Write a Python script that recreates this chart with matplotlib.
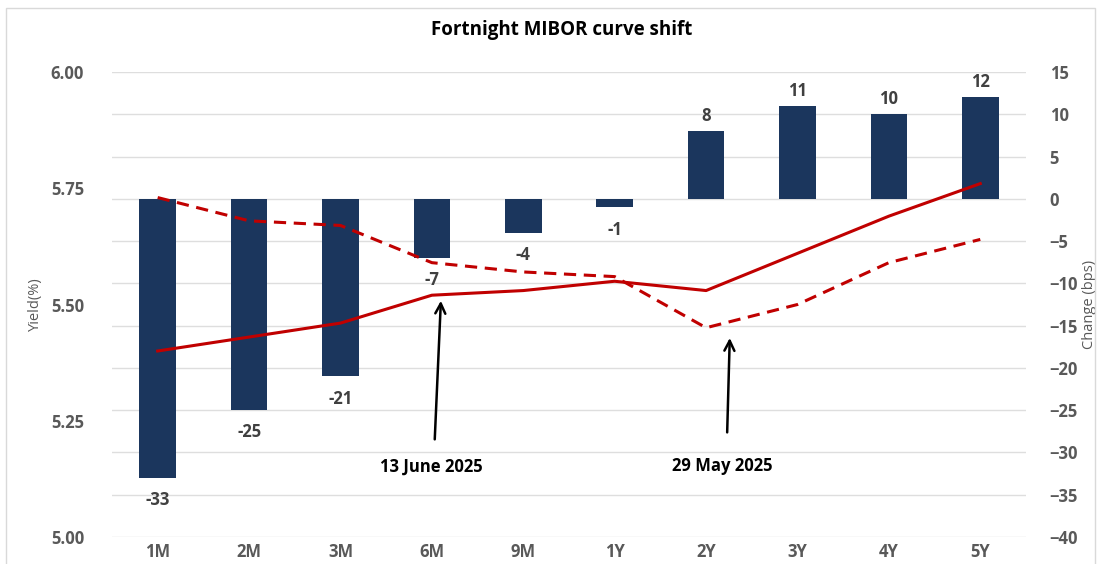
import numpy as np
import matplotlib
matplotlib.use("Agg")
import matplotlib.pyplot as plt
from matplotlib.patches import Rectangle

# tenors and values
tenors = ["1M", "2M", "3M", "6M", "9M", "1Y", "2Y", "3Y", "4Y", "5Y"]
yield_13jun = [5.40, 5.43, 5.46, 5.52, 5.53, 5.55, 5.53, 5.61, 5.69, 5.76]
yield_29may = [5.73, 5.68, 5.67, 5.59, 5.57, 5.56, 5.45, 5.50, 5.59, 5.64]
change_bps = [-33, -25, -21, -7, -4, -1, 8, 11, 10, 12]

plt.rcParams['font.family'] = ['Open Sans', 'DejaVu Sans']

NAVY = '#1b365d'
RED = '#c00000'
GRAY = '#595959'

fig = plt.figure(figsize=(11, 5.64), dpi=100)
fig.patches.append(Rectangle((0.005, -0.02), 0.99, 1.005, transform=fig.transFigure,
                             fill=False, edgecolor='#d9d9d9', lw=1))

ax = fig.add_axes([0.1018, 0.0479, 0.8309, 0.8244])
ax2 = ax.twinx()

x = np.arange(len(tenors))

# bars on the right axis
ax2.bar(x, change_bps, width=0.4, color=NAVY, zorder=2)
for xi, v in zip(x, change_bps):
    off = -16 if v < 0 else 11
    ax2.annotate(str(v), (xi, v), xytext=(0, off), textcoords='offset points',
                 ha='center', va='center', fontsize=12, fontweight='bold', color='#404040')
ax2.set_ylim(-40, 15)
ax2.set_yticks(np.arange(-40, 16, 5))
ax2.yaxis.grid(True, color='#dedede', lw=1, zorder=0)
ax2.set_axisbelow(True)

# lines on the left axis, drawn on top
ax.set_zorder(ax2.get_zorder() + 1)
ax.patch.set_visible(False)
ax.plot(x, yield_13jun, color=RED, lw=2.2)
ax.plot(x, yield_29may, color=RED, lw=2.2, ls=(0, (4, 2.5)))
ax.set_ylim(5.0, 6.0)
ax.set_yticks([5.00, 5.25, 5.50, 5.75, 6.00])
ax.set_yticklabels(['5.00', '5.25', '5.50', '5.75', '6.00'])
ax.set_xlim(-0.5, len(tenors) - 0.5)
ax.set_xticks(x)
ax.set_xticklabels(tenors)

ax.annotate('', xy=(3.1, 5.514), xytext=(3.03, 5.204),
            arrowprops=dict(arrowstyle='->', color='black', lw=1.8, mutation_scale=18))
ax.text(2.99, 5.151, '13 June 2025', ha='center', va='center', fontsize=12, fontweight='bold')
ax.annotate('', xy=(6.26, 5.434), xytext=(6.23, 5.219),
            arrowprops=dict(arrowstyle='->', color='black', lw=1.8, mutation_scale=18))
ax.text(6.18, 5.153, '29 May 2025', ha='center', va='center', fontsize=12, fontweight='bold')

for a in (ax, ax2):
    for s in a.spines.values():
        s.set_visible(False)
    a.tick_params(length=0, labelsize=12, labelcolor=GRAY)
    for lab in a.get_yticklabels() + a.get_xticklabels():
        lab.set_fontweight('bold')
ax.tick_params(axis='y', pad=20)
ax2.tick_params(axis='y', pad=17)
ax.tick_params(axis='x', pad=4)

ax.set_ylabel('Yield(%)', fontsize=10.5, color=GRAY, labelpad=6)
ax2.set_ylabel('Change (bps)', fontsize=10.5, color=GRAY, labelpad=3)

fig.text(0.511, 0.947, 'Fortnight MIBOR curve shift', ha='center', va='center',
         fontsize=13.5, fontweight='bold')

fig.savefig('out.png', dpi=100)
